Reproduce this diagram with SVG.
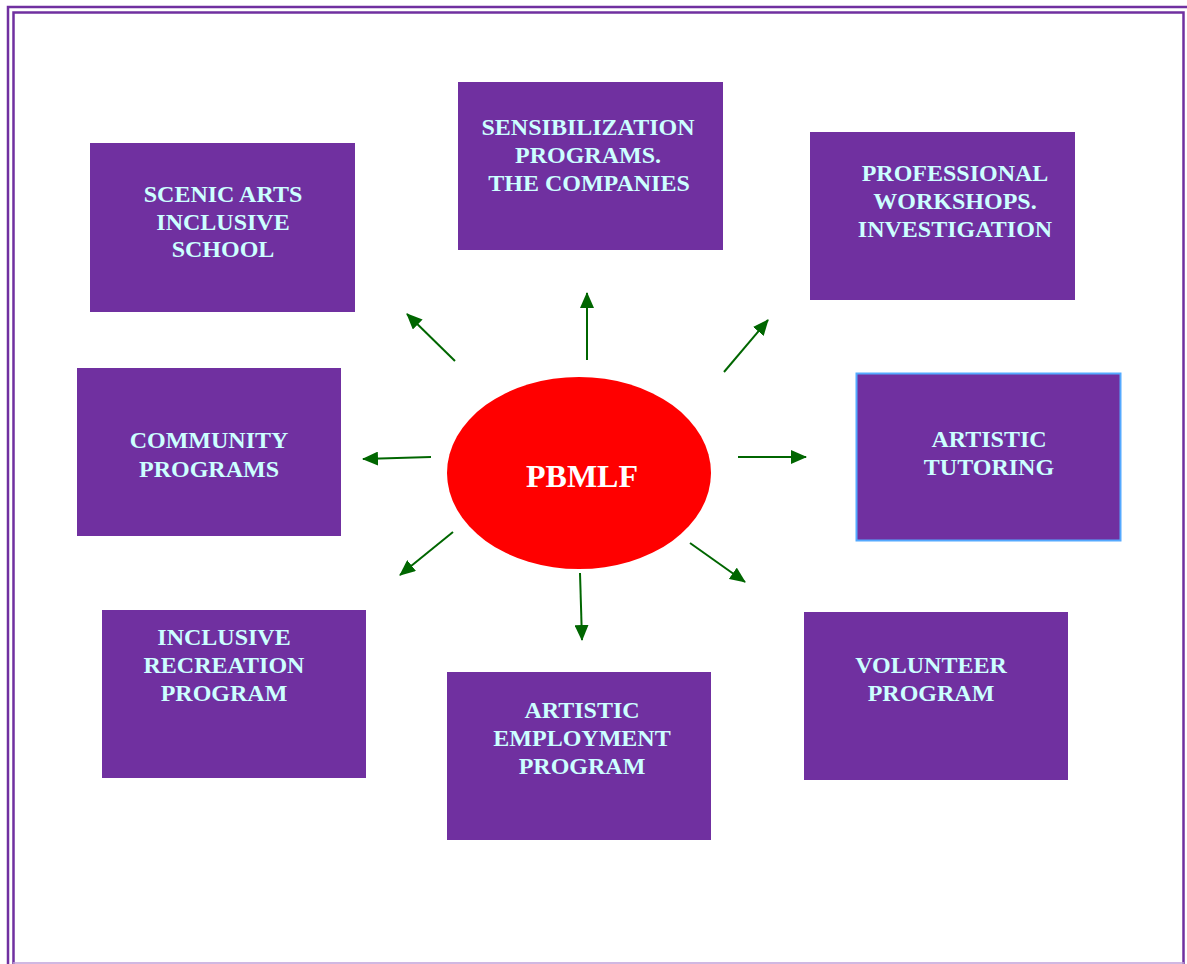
<svg xmlns="http://www.w3.org/2000/svg" width="1187" height="964" viewBox="0 0 1187 964">
<defs>
<style>
.box{fill:#7030A0;}
.lbl{font-family:"Liberation Serif","Times New Roman",serif;font-weight:bold;font-size:24px;fill:#CCFFFF;text-anchor:middle;}
.arr{stroke:#006600;stroke-width:2;fill:none;marker-end:url(#ah);}
</style>
<marker id="ah" viewBox="0 0 16 14" refX="15" refY="7" markerWidth="16" markerHeight="14" markerUnits="userSpaceOnUse" orient="auto">
<path d="M0,0 L16,7 L0,14 z" fill="#006600"/>
</marker>
</defs>
<rect width="1187" height="964" fill="#ffffff"/>
<g id="frame" fill="none" stroke="#7030A0">
<rect x="8" y="7" width="1190" height="970" stroke-width="2.5"/>
<rect x="13.5" y="12.5" width="1170" height="960" stroke-width="2.5"/>
<line x1="13" y1="963" x2="1184" y2="963" stroke="#c0a0d8" stroke-width="1.5"/>
</g>
<g id="connectors">
<line class="arr" x1="587" y1="360" x2="587" y2="293"/>
<line class="arr" x1="724" y1="372" x2="768" y2="320"/>
<line class="arr" x1="455" y1="361" x2="407" y2="314"/>
<line class="arr" x1="431" y1="457" x2="363" y2="459"/>
<line class="arr" x1="738" y1="457" x2="806" y2="457"/>
<line class="arr" x1="453" y1="532" x2="400" y2="575"/>
<line class="arr" x1="580" y1="573" x2="582" y2="640"/>
<line class="arr" x1="690" y1="543" x2="745" y2="582"/>
</g>
<g id="center">
<ellipse cx="579" cy="473" rx="132" ry="96" fill="#FF0000"/>
<text x="582" y="487" font-family="Liberation Serif,serif" font-weight="bold" font-size="32" fill="#ffffff" text-anchor="middle">PBMLF</text>
</g>
<g id="scenic">
<rect class="box" x="90" y="143" width="265" height="169"/>
<text class="lbl" x="223" y="202">SCENIC ARTS</text>
<text class="lbl" x="223" y="230">INCLUSIVE</text>
<text class="lbl" x="223" y="257">SCHOOL</text>
</g>
<g id="sensibilization">
<rect class="box" x="458" y="82" width="265" height="168"/>
<text class="lbl" x="588" y="135">SENSIBILIZATION</text>
<text class="lbl" x="588" y="163">PROGRAMS.</text>
<text class="lbl" x="589" y="191">THE COMPANIES</text>
</g>
<g id="professional">
<rect class="box" x="810" y="132" width="265" height="168"/>
<text class="lbl" x="955" y="181">PROFESSIONAL</text>
<text class="lbl" x="955" y="209">WORKSHOPS.</text>
<text class="lbl" x="955" y="237">INVESTIGATION</text>
</g>
<g id="community">
<rect class="box" x="77" y="368" width="264" height="168"/>
<text class="lbl" x="209" y="448">COMMUNITY</text>
<text class="lbl" x="209" y="477">PROGRAMS</text>
</g>
<g id="tutoring">
<rect class="box" x="856.5" y="373.5" width="264" height="167" stroke="#55AAFF" stroke-width="2"/>
<text class="lbl" x="989" y="447">ARTISTIC</text>
<text class="lbl" x="989" y="475">TUTORING</text>
</g>
<g id="recreation">
<rect class="box" x="102" y="610" width="264" height="168"/>
<text class="lbl" x="224" y="645">INCLUSIVE</text>
<text class="lbl" x="224" y="673">RECREATION</text>
<text class="lbl" x="224" y="701">PROGRAM</text>
</g>
<g id="employment">
<rect class="box" x="447" y="672" width="264" height="168"/>
<text class="lbl" x="582" y="718">ARTISTIC</text>
<text class="lbl" x="582" y="746">EMPLOYMENT</text>
<text class="lbl" x="582" y="774">PROGRAM</text>
</g>
<g id="volunteer">
<rect class="box" x="804" y="612" width="264" height="168"/>
<text class="lbl" x="931" y="673">VOLUNTEER</text>
<text class="lbl" x="931" y="701">PROGRAM</text>
</g>
</svg>
